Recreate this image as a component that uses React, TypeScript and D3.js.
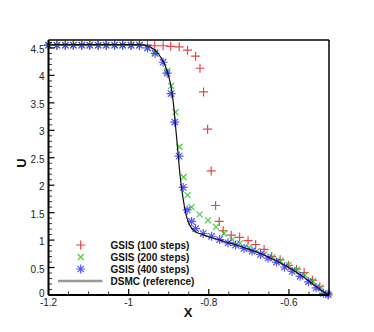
import React from 'react';
import * as d3 from 'd3';

// flat region grid (shared by the three GSIS runs)
const flatX = [-1.2, -1.179, -1.158, -1.138, -1.117, -1.097, -1.076, -1.056, -1.035, -1.015, -0.994, -0.973];

const gsis100X = [...flatX, -0.953, -0.935, -0.914, -0.895, -0.874, -0.853, -0.833, -0.822, -0.813, -0.803, -0.794, -0.783, -0.774, -0.764, -0.744, -0.723, -0.702, -0.683, -0.662, -0.643, -0.622, -0.601, -0.581, -0.562, -0.541, -0.523, -0.502];
const gsis100U = [...flatX.map(() => 4.55), 4.55, 4.54, 4.54, 4.53, 4.52, 4.46, 4.35, 4.13, 3.70, 3.02, 2.26, 1.63, 1.34, 1.17, 1.09, 1.05, 0.99, 0.92, 0.83, 0.70, 0.64, 0.54, 0.47, 0.41, 0.27, 0.15, 0.02];

const gsis200X = [...flatX, -0.953, -0.935, -0.904, -0.894, -0.883, -0.873, -0.863, -0.853, -0.843, -0.823, -0.802, -0.782, -0.762, -0.741, -0.722, -0.7, -0.68, -0.661, -0.641, -0.621, -0.601, -0.58, -0.56, -0.54, -0.521, -0.502];
const gsis200U = [...flatX.map(() => 4.55), 4.50, 4.42, 4.08, 3.81, 3.33, 2.70, 2.15, 1.82, 1.60, 1.47, 1.36, 1.24, 1.12, 1.01, 0.94, 0.86, 0.80, 0.74, 0.69, 0.62, 0.55, 0.46, 0.36, 0.25, 0.14, 0.02];

const gsis400X = [...flatX, -0.953, -0.934, -0.914, -0.904, -0.894, -0.885, -0.874, -0.864, -0.854, -0.843, -0.833, -0.814, -0.793, -0.773, -0.752, -0.733, -0.712, -0.692, -0.671, -0.652, -0.631, -0.611, -0.592, -0.572, -0.551, -0.532, -0.514, -0.502];
const gsis400U = [...flatX.map(() => 4.55), 4.50, 4.40, 4.24, 4.04, 3.67, 3.15, 2.53, 1.96, 1.55, 1.34, 1.21, 1.12, 1.07, 1.01, 0.95, 0.91, 0.85, 0.80, 0.74, 0.67, 0.60, 0.51, 0.43, 0.34, 0.24, 0.13, 0.03, 0.0];

const dsmcX = [-1.2, -0.98, -0.96, -0.95, -0.94, -0.93, -0.92, -0.91, -0.9, -0.893, -0.887, -0.882, -0.877, -0.872, -0.866, -0.86, -0.855, -0.85, -0.845, -0.838, -0.83, -0.815, -0.8, -0.78, -0.76, -0.74, -0.72, -0.7, -0.68, -0.66, -0.64, -0.62, -0.6, -0.58, -0.56, -0.54, -0.52, -0.5];
const dsmcU = [4.56, 4.56, 4.55, 4.53, 4.49, 4.43, 4.33, 4.2, 3.98, 3.75, 3.4, 3.0, 2.6, 2.2, 1.85, 1.58, 1.42, 1.31, 1.24, 1.18, 1.14, 1.10, 1.06, 1.02, 0.97, 0.93, 0.88, 0.83, 0.78, 0.72, 0.65, 0.58, 0.5, 0.41, 0.31, 0.2, 0.09, 0.0];

const xTicks = [-1.2, -1, -0.8, -0.6];
const yTicks = [0, 0.5, 1, 1.5, 2, 2.5, 3, 3.5, 4, 4.5];
const legendLabels = ['GSIS (100 steps)', 'GSIS (200 steps)', 'GSIS (400 steps)', 'DSMC (reference)'];

const W = 374, H = 332;
const left = 48.5, right = 329, top = 40, bottom = 295;

const PLUS = 'M-4.5,0H4.5M0,-4.5V4.5';
const CROSS = 'M-3,-3L3,3M-3,3L3,-3';
const STAR = 'M-4.5,0H4.5M0,-4.5V4.5M-3.2,-3.2L3.2,3.2M-3.2,3.2L3.2,-3.2';

export default function App() {
  const x = d3.scaleLinear().domain([-1.2, -0.5]).range([left, right]);
  const y = d3.scaleLinear().domain([0, 4.645]).range([bottom, top]);

  const line = d3.line<number>()
    .x((_, i) => x(dsmcX[i]))
    .y(d => y(d))
    .curve(d3.curveMonotoneX);

  const xMinor = d3.range(-1.2, -0.499, 0.05).map(v => +v.toFixed(3)).filter(v => !xTicks.some(t => Math.abs(t - v) < 1e-6));
  const yMinor = d3.range(0, 4.61, 0.1).map(v => +v.toFixed(2)).filter(v => !yTicks.some(t => Math.abs(t - v) < 1e-6));

  const series = [
    { xs: gsis100X, us: gsis100U, path: PLUS, color: '#e8232b' },
    { xs: gsis200X, us: gsis200U, path: CROSS, color: '#1fcc1f' },
    { xs: gsis400X, us: gsis400U, path: STAR, color: '#3a3aff' },
  ];

  const font = 'Liberation Sans, Arial, sans-serif';

  return (
    <svg width={W} height={H} style={{ position: 'absolute', left: 0, top: 0, background: '#fff' }} fontFamily={font}>
      {/* markers */}
      {series.map((s, k) => (
        <g key={k} stroke={s.color} strokeWidth={1.2} fill="none" opacity={0.85}>
          {s.xs.map((xv, i) => (
            <path key={i} d={s.path} transform={`translate(${x(xv)},${y(s.us[i])})`} />
          ))}
        </g>
      ))}

      {/* DSMC reference */}
      <path d={line(dsmcU) || ''} fill="none" stroke="#111" strokeWidth={1.2} />

      {/* frame */}
      <line x1={left} x2={right} y1={top} y2={top} stroke="#000" strokeWidth={1.5} />
      <line x1={right} x2={right} y1={top} y2={bottom} stroke="#000" strokeWidth={1.5} />
      <line x1={left} x2={right} y1={bottom} y2={bottom} stroke="#000" strokeWidth={2} />
      <line x1={left} x2={left} y1={top} y2={bottom} stroke="#000" strokeWidth={2} />

      {/* x ticks */}
      {xTicks.map(t => (
        <g key={t}>
          <line x1={x(t)} x2={x(t)} y1={bottom} y2={bottom - 6} stroke="#000" strokeWidth={1.2} />
          <text x={x(t)} y={bottom + 11} textAnchor="middle" fontSize={10} fill="#222">{t}</text>
        </g>
      ))}
      {xMinor.map(t => (
        <line key={t} x1={x(t)} x2={x(t)} y1={bottom} y2={bottom - 3.5} stroke="#000" strokeWidth={0.8} />
      ))}

      {/* y ticks */}
      {yTicks.map(t => (
        <g key={t}>
          <line x1={left} x2={left + 6} y1={y(t)} y2={y(t)} stroke="#000" strokeWidth={1.2} />
          <text x={44.5} y={t === 0 ? y(t) + 1.5 : y(t) + 5} textAnchor="end" fontSize={10} fill="#222">{t}</text>
        </g>
      ))}
      {yMinor.map(t => (
        <line key={t} x1={left} x2={left + 3.5} y1={y(t)} y2={y(t)} stroke="#000" strokeWidth={0.8} />
      ))}

      {/* axis titles */}
      <text x={188} y={317} textAnchor="middle" fontSize={13} fontWeight="bold" fill="#111">X</text>
      <text transform="translate(26,163) rotate(-90)" textAnchor="middle" fontSize={13} fontWeight="bold" fill="#111">U</text>

      {/* legend */}
      {legendLabels.map((lab, i) => {
        const ly = 245 + i * 12;
        return (
          <g key={lab}>
            {i < 3 ? (
              <path d={series[i].path} transform={`translate(80.7,${ly})`} stroke={series[i].color} strokeWidth={1.2} fill="none" opacity={0.85} />
            ) : (
              <line x1={58} x2={102.5} y1={ly} y2={ly} stroke="#999" strokeWidth={2.5} />
            )}
            <text x={110.5} y={ly + 3.8} fontSize={10} fontWeight="bold" fill="#111">{lab}</text>
          </g>
        );
      })}
    </svg>
  );
}
